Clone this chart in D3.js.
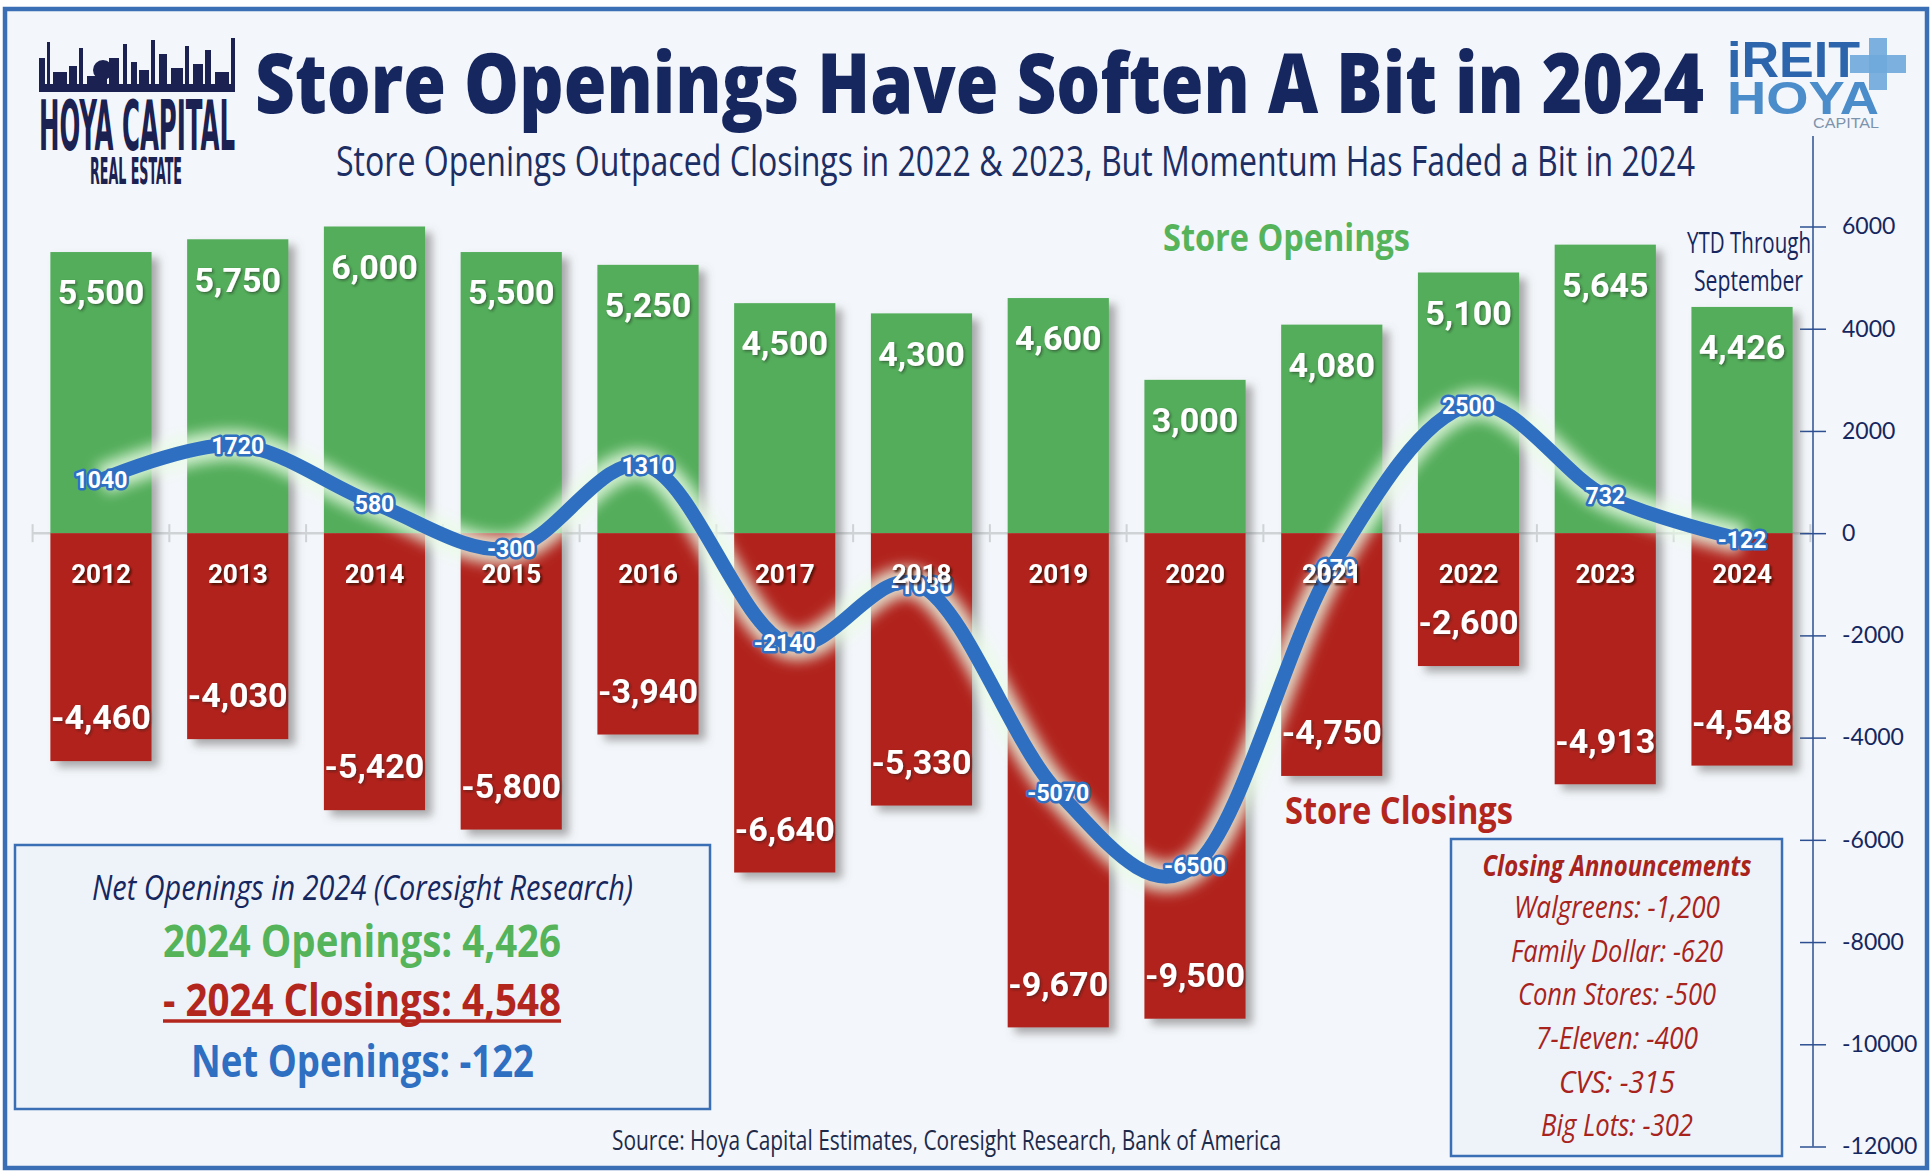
<!DOCTYPE html>
<html><head><meta charset="utf-8">
<script src="https://cdn.jsdelivr.net/npm/d3@7"></script>
<style>body{margin:0;background:#fff;} svg{display:block;}</style>
</head><body>
<svg id="chart" width="1932" height="1176"></svg>
<script>
// ---------- DATA ----------
const years = ["2012","2013","2014","2015","2016","2017","2018","2019","2020","2021","2022","2023","2024"];
const openings = [5500,5750,6000,5500,5250,4500,4300,4600,3000,4080,5100,5645,4426];
const closings = [-4460,-4030,-5420,-5800,-3940,-6640,-5330,-9670,-9500,-4750,-2600,-4913,-4548];
const netOpenings = [1040,1720,580,-300,1310,-2140,-1030,-5070,-6500,-670,2500,732,-122];
const yTicks = [6000,4000,2000,0,-2000,-4000,-6000,-8000,-10000,-12000];
const announceNames = ["Walgreens","Family Dollar","Conn Stores","7-Eleven","CVS","Big Lots"];
const announceValues = [-1200,-620,-500,-400,-315,-302];

const titleText = "Store Openings Have Soften A Bit in 2024";
const subtitleText = "Store Openings Outpaced Closings in 2022 & 2023, But Momentum Has Faded a Bit in 2024";
const sourceText = "Source: Hoya Capital Estimates, Coresight Research, Bank of America";

// ---------- SETUP ----------
const W = 1932, H = 1176;
const svg = d3.select("#chart");
const loc = d3.formatLocale({decimal:".", thousands:",", grouping:[3], currency:["$",""], minus:"-"});
const fmtComma = loc.format(",");
const fmtPlain = loc.format("d");

const C = {
  navy:"#16275f", green:"#52ad5a", red:"#b1231a", blue:"#2f6fc2",
  border:"#3a6fb5", bg:"#f3f6fa", box:"#eef3f9", gray:"#cfd3d6",
  greenText:"#55b35a", redText:"#b3261e"
};
const BOLD = "'Open Sans', 'DejaVu Sans', sans-serif";
const NUM = "Roboto, 'Open Sans', sans-serif";

function fit(sel, w){ return sel.attr("textLength", w).attr("lengthAdjust","spacingAndGlyphs"); }

// defs
const defs = svg.append("defs");
const sh = defs.append("filter").attr("id","barShadow").attr("x","-20%").attr("y","-10%").attr("width","150%").attr("height","130%");
sh.append("feDropShadow").attr("dx",7).attr("dy",6).attr("stdDeviation",4.5).attr("flood-color","#6a6a6a").attr("flood-opacity",0.55);
const ts = defs.append("filter").attr("id","txtShadow").attr("x","-20%").attr("y","-20%").attr("width","150%").attr("height","150%");
ts.append("feDropShadow").attr("dx",2).attr("dy",2).attr("stdDeviation",0.8).attr("flood-color","#3a0703").attr("flood-opacity",0.85);
const ts2 = defs.append("filter").attr("id","txtShadow2").attr("x","-20%").attr("y","-20%").attr("width","150%").attr("height","150%");
ts2.append("feDropShadow").attr("dx",1.5).attr("dy",1.5).attr("stdDeviation",1).attr("flood-color","#222").attr("flood-opacity",0.5);
const gl = defs.append("filter").attr("id","glow").attr("x","-10%").attr("y","-20%").attr("width","120%").attr("height","140%");
gl.append("feGaussianBlur").attr("stdDeviation",7);

// background + border
svg.append("rect").attr("width",W).attr("height",H).attr("fill","#ffffff");
svg.append("rect").attr("x",5).attr("y",9).attr("width",W-10).attr("height",H-17)
  .attr("fill",C.bg).attr("stroke",C.border).attr("stroke-width",4.5);

// ---------- SCALES ----------
const x = d3.scaleBand().domain(years).range([32.6, 1810.4]).paddingInner(0.26).paddingOuter(0.13);
const y = d3.scaleLinear().domain([-12000, 6000]).range([1146.5, 226.5]);
const bw = x.bandwidth();
const cx = d => x(d) + bw/2;

// zero category axis (behind bars)
const axG = svg.append("g");
axG.append("line").attr("x1", x.range()[0]).attr("x2", x.range()[1]).attr("y1", y(0)).attr("y2", y(0))
  .attr("stroke", C.gray).attr("stroke-width", 2.5);
const bounds = years.map(d => x(d) - x.step()*x.paddingInner()/2).concat([x(years[years.length-1]) + bw + x.step()*x.paddingInner()/2]);
axG.selectAll("line.tk").data(bounds).join("line").attr("class","tk")
  .attr("x1", d=>d).attr("x2", d=>d).attr("y1", y(0)-9).attr("y2", y(0)+9)
  .attr("stroke", C.gray).attr("stroke-width", 2);

// right value axis
const raxis = svg.append("g").attr("transform", `translate(1813,0)`);
raxis.append("line").attr("x1",0).attr("x2",0).attr("y1",136).attr("y2",y(-12000)).attr("stroke","#2d4f92").attr("stroke-width",1.5);
raxis.call(d3.axisRight(y).tickValues(yTicks).tickFormat(fmtPlain).tickSize(13).tickPadding(15))
  .call(g => g.select(".domain").remove())
  .call(g => g.selectAll(".tick line").attr("x1",-13).attr("stroke","#2d4f92").attr("stroke-width",1.5))
  .call(g => g.selectAll(".tick text").attr("font-family","Lato, 'DejaVu Sans', sans-serif").attr("font-size",23)
      .attr("fill",C.navy).attr("x",29));

// ---------- BARS ----------
const barsG = svg.append("g").attr("filter","url(#barShadow)");
barsG.selectAll("rect.op").data(years).join("rect").attr("class","op")
  .attr("x", d=>x(d)).attr("width", bw)
  .attr("y", (d,i)=>y(openings[i])).attr("height", (d,i)=>y(0)-y(openings[i]))
  .attr("fill", C.green);
barsG.selectAll("rect.cl").data(years).join("rect").attr("class","cl")
  .attr("x", d=>x(d)).attr("width", bw)
  .attr("y", y(0)).attr("height", (d,i)=>y(closings[i])-y(0))
  .attr("fill", C.red);

// value labels
svg.append("g").selectAll("text").data(years).join("text")
  .attr("x", d=>cx(d)).attr("y", (d,i)=>y(openings[i])+40).attr("dy","0.36em")
  .attr("text-anchor","middle").attr("font-family",NUM).attr("font-weight",700).attr("font-size",34)
  .attr("fill","#fff").attr("filter","url(#txtShadow2)")
  .text((d,i)=>fmtComma(openings[i]));
svg.append("g").selectAll("text").data(years).join("text")
  .attr("x", d=>cx(d)).attr("y", (d,i)=>y(closings[i])-44).attr("dy","0.36em")
  .attr("text-anchor","middle").attr("font-family",NUM).attr("font-weight",700).attr("font-size",34)
  .attr("fill","#fff").attr("filter","url(#txtShadow2)")
  .text((d,i)=>fmtComma(closings[i]));

// ---------- NET LINE ----------
const line = d3.line().x((d,i)=>cx(years[i])).y(d=>y(d)).curve(d3.curveCardinal.tension(0));
svg.append("path").datum(netOpenings).attr("d", line).attr("fill","none")
  .attr("stroke","#eafbe6").attr("stroke-opacity",0.85).attr("stroke-width",30).attr("filter","url(#glow)");
svg.append("path").datum(netOpenings).attr("d", line).attr("fill","none")
  .attr("stroke",C.blue).attr("stroke-width",14).attr("stroke-linecap","round");
svg.append("g").selectAll("text").data(netOpenings).join("text")
  .attr("x",(d,i)=>cx(years[i])).attr("y",d=>y(d)).attr("dy","0.36em")
  .attr("text-anchor","middle").attr("font-family",NUM).attr("font-weight",700).attr("font-size",23)
  .attr("fill","#fff").attr("stroke",C.blue).attr("stroke-width",5).attr("paint-order","stroke")
  .attr("stroke-linejoin","round")
  .text(d=>fmtPlain(d));

// year labels
svg.append("g").selectAll("text").data(years).join("text")
  .attr("x", d=>cx(d)).attr("y", y(0)+40).attr("dy","0.36em")
  .attr("text-anchor","middle").attr("font-family",NUM).attr("font-weight",700).attr("font-size",26)
  .attr("fill","#fff").attr("filter","url(#txtShadow)")
  .text(d=>d);

// ---------- TITLES ----------
fit(svg.append("text").attr("x",255).attr("y",113).attr("font-family",BOLD).attr("font-weight",800)
  .attr("font-size",84).attr("fill",C.navy).text(titleText), 1449);
fit(svg.append("text").attr("x",336).attr("y",176).attr("font-family",BOLD).attr("font-weight",400)
  .attr("font-size",42).attr("fill","#1c2e63").text(subtitleText), 1359);

// series labels
fit(svg.append("text").attr("x",1163).attr("y",237).attr("dy","0.36em").attr("font-family",BOLD).attr("font-weight",700)
  .attr("font-size",38).attr("fill",C.greenText).text("Store Openings"), 247);
fit(svg.append("text").attr("x",1285).attr("y",810).attr("dy","0.36em").attr("font-family",BOLD).attr("font-weight",700)
  .attr("font-size",38).attr("fill",C.redText).text("Store Closings"), 228);
fit(svg.append("text").attr("x",1687).attr("y",243).attr("dy","0.36em").attr("font-family",BOLD)
  .attr("font-size",29).attr("fill",C.navy).text("YTD Through"), 124);
fit(svg.append("text").attr("x",1694).attr("y",281).attr("dy","0.36em").attr("font-family",BOLD)
  .attr("font-size",29).attr("fill",C.navy).text("September"), 109);

// ---------- LEFT SUMMARY BOX ----------
const i24 = years.length-1;
svg.append("rect").attr("x",15).attr("y",845).attr("width",695).attr("height",264)
  .attr("fill",C.box).attr("stroke",C.border).attr("stroke-width",2.5);
fit(svg.append("text").attr("x",92).attr("y",887).attr("dy","0.36em").attr("font-family",BOLD).attr("font-style","italic")
  .attr("font-size",35).attr("fill",C.navy).text(`Net Openings in ${years[i24]} (Coresight Research)`), 541);
fit(svg.append("text").attr("x",163).attr("y",941).attr("dy","0.36em").attr("font-family",BOLD).attr("font-weight",700)
  .attr("font-size",45).attr("fill",C.greenText).text(`${years[i24]} Openings: ${fmtComma(openings[i24])}`), 398);
fit(svg.append("text").attr("x",163).attr("y",1000).attr("dy","0.36em").attr("font-family",BOLD).attr("font-weight",700)
  .attr("font-size",45).attr("fill",C.redText).text(`- ${years[i24]} Closings: ${fmtComma(-closings[i24])}`), 398);
svg.append("line").attr("x1",163).attr("x2",561).attr("y1",1021).attr("y2",1021).attr("stroke",C.redText).attr("stroke-width",3.5);
fit(svg.append("text").attr("x",191).attr("y",1061).attr("dy","0.36em").attr("font-family",BOLD).attr("font-weight",700)
  .attr("font-size",45).attr("fill",C.blue).text(`Net Openings: ${fmtPlain(netOpenings[i24])}`), 343);

// ---------- RIGHT ANNOUNCEMENT BOX ----------
svg.append("rect").attr("x",1451).attr("y",839).attr("width",331).attr("height",317)
  .attr("fill",C.box).attr("stroke",C.border).attr("stroke-width",2.5);
fit(svg.append("text").attr("x",1617).attr("y",866).attr("dy","0.36em").attr("text-anchor","middle")
  .attr("font-family",BOLD).attr("font-weight",700).attr("font-style","italic")
  .attr("font-size",29).attr("fill","#a8231c").text("Closing Announcements"), 269);
const annW = [206,212,198,162,116,152];
const annY = d3.scaleLinear().domain([0, announceNames.length-1]).range([907,1125]);
svg.append("g").selectAll("text").data(announceNames).join("text")
  .attr("x",1617).attr("y",(d,i)=>annY(i)).attr("dy","0.36em").attr("text-anchor","middle")
  .attr("font-family",BOLD).attr("font-style","italic").attr("font-size",31).attr("fill","#a8231c")
  .attr("textLength",(d,i)=>annW[i]).attr("lengthAdjust","spacingAndGlyphs")
  .text((d,i)=>`${d}: ${fmtComma(announceValues[i])}`);

// source
fit(svg.append("text").attr("x",612).attr("y",1140).attr("dy","0.36em").attr("font-family",BOLD)
  .attr("font-size",27).attr("fill","#1e2a4a").text(sourceText), 669);

// ---------- LOGOS ----------
// Hoya Capital skyline logo
const lg = svg.append("g").attr("fill","#1b2150");
const sky = [[0,6,30],[8,3,46],[14,14,16],[30,8,22],[40,4,40],[48,20,12],[70,10,30],[84,4,44],[92,6,26],[100,10,18],[112,4,48],[120,8,34],[132,12,20],[146,4,42],[154,10,24],[166,6,38],[176,14,16],[192,4,50]];
lg.selectAll("rect.b").data(sky).join("rect").attr("class","b")
  .attr("x",d=>39+d[0]).attr("width",d=>d[1]).attr("y",d=>88-d[2]).attr("height",d=>d[2]);
lg.append("circle").attr("cx",103).attr("cy",70).attr("r",10);
lg.append("rect").attr("x",39).attr("y",84).attr("width",196).attr("height",8);
fit(lg.append("text").attr("x",39).attr("y",150).attr("font-family","'DejaVu Sans Condensed','DejaVu Sans',sans-serif").attr("font-weight",700)
  .attr("font-size",70).text("HOYA CAPITAL"), 196);
fit(lg.append("text").attr("x",90).attr("y",184).attr("font-family","'DejaVu Sans Condensed','DejaVu Sans',sans-serif").attr("font-weight",700)
  .attr("font-size",38).text("REAL ESTATE"), 92);

// iREIT Hoya logo
const rg = svg.append("g");
rg.append("rect").attr("x",1850).attr("y",55).attr("width",56).attr("height",18).attr("fill","#6fa8dc").attr("opacity",0.9);
rg.append("rect").attr("x",1869).attr("y",38).attr("width",18).attr("height",52).attr("fill","#6fa8dc").attr("opacity",0.9);
fit(rg.append("text").attr("x",1727).attr("y",77).attr("font-family","'Liberation Sans', Arial, sans-serif").attr("font-weight",700)
  .attr("font-size",50).attr("fill","#2d65ad").text("iREIT"), 133);
fit(rg.append("text").attr("x",1727).attr("y",114).attr("font-family","'Liberation Sans', Arial, sans-serif").attr("font-weight",700)
  .attr("font-size",47).attr("fill","#4b8ccb").text("HOYA"), 152);
fit(rg.append("text").attr("x",1813).attr("y",128).attr("font-family","'Liberation Sans', Arial, sans-serif")
  .attr("font-size",14).attr("fill","#7d93ad").text("CAPITAL"), 66);
</script>
</body></html>
